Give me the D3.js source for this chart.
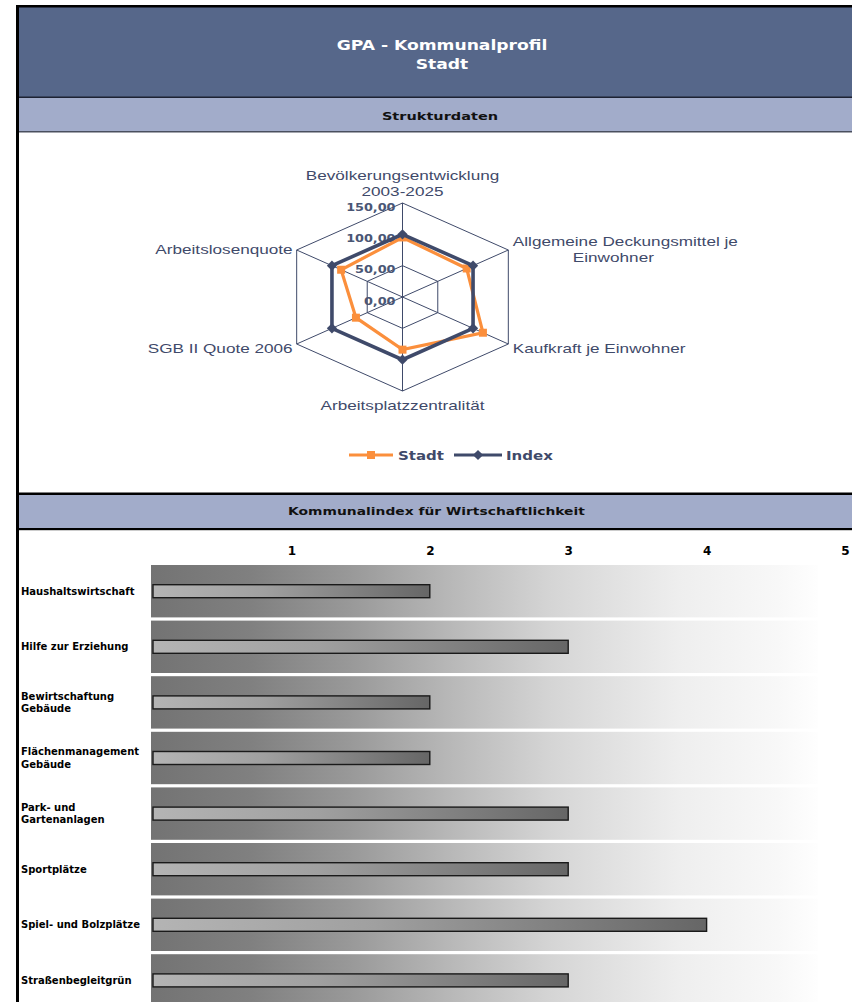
<!DOCTYPE html>
<html>
<head>
<meta charset="utf-8">
<script src="https://cdn.jsdelivr.net/npm/d3@7/dist/d3.min.js"></script>
<style>
  html, body { margin: 0; padding: 0; background: #fff; }
  svg { display: block; }
</style>
</head>
<body>
<svg id="chart" width="852" height="1002"></svg>
<script>
// ---------------- DATA ----------------
const titleLines = ["GPA - Kommunalprofil", "Stadt"];
const section1Title = "Strukturdaten";
const section2Title = "Kommunalindex für Wirtschaftlichkeit";

const radarAxes = [
  "Bevölkerungsentwicklung\n2003-2025",
  "Allgemeine Deckungsmittel je\nEinwohner",
  "Kaufkraft je Einwohner",
  "Arbeitsplatzzentralität",
  "SGB II Quote 2006",
  "Arbeitslosenquote"
];
const seriesNames = ["Stadt", "Index"];
const stadtValues = [95, 91, 114, 84, 66, 87];
const indexValues = [100, 100, 100, 100, 100, 100];
const radarTicks = [0, 50, 100, 150];

const barCategories = [
  "Haushaltswirtschaft",
  "Hilfe zur Erziehung",
  "Bewirtschaftung\nGebäude",
  "Flächenmanagement\nGebäude",
  "Park- und\nGartenanlagen",
  "Sportplätze",
  "Spiel- und Bolzplätze",
  "Straßenbegleitgrün"
];
const barValues = [2, 3, 2, 2, 3, 3, 4, 3];
const barTicks = [1, 2, 3, 4, 5];

// ---------------- STYLE ----------------
const C = {
  header: "#56678a",
  band: "#a2acca",
  slate: "#3f4a6a",
  orange: "#fb8f3c",
  text: "#111111"
};
const SANS_B = "'DejaVu Sans', Verdana, sans-serif";
const ARIAL = "'Liberation Sans', Arial, sans-serif";

const svg = d3.select("#chart");

function txt(parent, x, y, s, o) {
  return parent.append("text")
    .attr("transform", `translate(${x},${y}) scale(${o.sx || 1},1)`)
    .attr("text-anchor", o.anchor || "middle")
    .attr("font-family", o.family || SANS_B)
    .attr("font-size", o.size)
    .attr("font-weight", o.weight || "normal")
    .attr("fill", o.fill || C.text)
    .text(s);
}

// ---------------- GRADIENTS ----------------
const defs = svg.append("defs");
const bandGrad = defs.append("linearGradient").attr("id", "bandGrad")
  .attr("x1", "0").attr("x2", "1").attr("y1", "0").attr("y2", "0");
[[0, "#737373"], [0.15, "#808080"], [0.30, "#999999"], [0.45, "#b8b8b8"],
 [0.60, "#d5d5d5"], [0.79, "#eeeeee"], [0.94, "#f8f8f8"], [1, "#fefefe"]]
  .forEach(([o, c]) => bandGrad.append("stop").attr("offset", o).attr("stop-color", c));
const barGrad = defs.append("linearGradient").attr("id", "barGrad")
  .attr("x1", "0").attr("x2", "1").attr("y1", "0").attr("y2", "0");
[[0, "#b4b4b4"], [0.4, "#a0a0a0"], [1, "#666666"]]
  .forEach(([o, c]) => barGrad.append("stop").attr("offset", o).attr("stop-color", c));

// ---------------- FRAME / HEADERS ----------------
svg.append("rect").attr("x", 19).attr("y", 7).attr("width", 833).attr("height", 90).attr("fill", C.header);
svg.append("rect").attr("x", 19).attr("y", 96.5).attr("width", 833).attr("height", 1.5).attr("fill", "#1d2233");
svg.append("rect").attr("x", 19).attr("y", 98).attr("width", 833).attr("height", 33).attr("fill", C.band);
svg.append("rect").attr("x", 19).attr("y", 131).attr("width", 833).attr("height", 1.5).attr("fill", "#4a4f5e");

svg.append("rect").attr("x", 19).attr("y", 492.5).attr("width", 833).attr("height", 2.5).attr("fill", "#000");
svg.append("rect").attr("x", 19).attr("y", 495).attr("width", 833).attr("height", 33).attr("fill", C.band);
svg.append("rect").attr("x", 19).attr("y", 528).attr("width", 833).attr("height", 2.2).attr("fill", "#000");

svg.append("rect").attr("x", 16).attr("y", 5).attr("width", 3).attr("height", 997).attr("fill", "#000");
svg.append("rect").attr("x", 16).attr("y", 5).attr("width", 836).attr("height", 2.5).attr("fill", "#000");

txt(svg, 442, 50, titleLines[0], { size: 13.5, weight: "bold", fill: "#fff", sx: 1.27 });
txt(svg, 442, 69, titleLines[1], { size: 13.5, weight: "bold", fill: "#fff", sx: 1.27 });
txt(svg, 440, 120, section1Title, { size: 11, weight: "bold", sx: 1.32 });
txt(svg, 436.5, 514.5, section2Title, { size: 11, weight: "bold", sx: 1.26 });

// ---------------- RADAR ----------------
const cx = 402.5, cy = 297, SX = 1.3;
const r = d3.scaleLinear().domain([0, 150]).range([0, 94]);
const ang = d3.scaleLinear().domain([0, radarAxes.length]).range([0, 2 * Math.PI]);
const pt = (i, v) => [cx + SX * r(v) * Math.sin(ang(i)), cy - r(v) * Math.cos(ang(i))];
const radar = svg.append("g");
const closed = d3.line().curve(d3.curveLinearClosed);

// grid rings
radarTicks.filter(t => t > 0).forEach(t => {
  radar.append("path")
    .attr("d", closed(radarAxes.map((_, i) => pt(i, t))))
    .attr("fill", "none").attr("stroke", C.slate).attr("stroke-width", 1);
});
// spokes
radarAxes.forEach((_, i) => {
  const [x, y] = pt(i, radarTicks[radarTicks.length - 1]);
  radar.append("line").attr("x1", cx).attr("y1", cy).attr("x2", x).attr("y2", y)
    .attr("stroke", C.slate).attr("stroke-width", 1);
});

// axis labels
radarAxes.forEach((label, i) => {
  const [vx, vy] = pt(i, 150);
  const lines = label.split("\n");
  const s = Math.sin(ang(i)), c = Math.cos(ang(i));
  const o = { size: 13, family: ARIAL, fill: C.slate, sx: 1.32 };
  if (Math.abs(s) < 1e-6) {
    if (c > 0) {
      const base = vy - 7.5 - (lines.length - 1) * 16;
      lines.forEach((ln, k) => txt(radar, vx, base + k * 16, ln, o));
    } else {
      lines.forEach((ln, k) => txt(radar, vx, vy + 18.5 + k * 16, ln, o));
    }
  } else {
    const anchor = s > 0 ? "start" : "end";
    const x0 = s > 0 ? vx + 4.5 : vx - 4;
    const center = vy + (c > 0 ? -1 : 4);
    const first = center - (lines.length - 1) * 8 + 4.5;
    let w1 = 0;
    lines.forEach((ln, k) => {
      if (k === 0) {
        const t = txt(radar, x0, first, ln, Object.assign({}, o, { anchor }));
        w1 = t.node().getComputedTextLength() * o.sx;
      } else {
        const mid = s > 0 ? x0 + w1 / 2 - 12 : x0 - w1 / 2;
        txt(radar, mid, first + k * 16, ln, o);
      }
    });
  }
});

// tick labels
const de = d3.formatLocale({ decimal: ",", thousands: ".", grouping: [3], currency: ["", " €"] });
const fmt = de.format(".2f");
radarTicks.forEach(t => {
  txt(radar, cx - 7, cy - r(t) + 7.5, fmt(t), { size: 10, weight: "bold", fill: "#4a5675", anchor: "end", sx: 1.28 });
});

// series
const seriesData = [stadtValues, indexValues];
const seriesColor = [C.orange, C.slate];
const symbols = [
  d3.symbol(d3.symbolSquare, 64),
  d3.symbol(d3.symbolSquare, 52)
];
seriesData.forEach((vals, si) => {
  const pts = vals.map((v, i) => pt(i, v));
  radar.append("path").attr("d", closed(pts))
    .attr("fill", "none").attr("stroke", seriesColor[si])
    .attr("stroke-width", si === 0 ? 3.2 : 3.6).attr("stroke-linejoin", "miter");
  radar.selectAll(null).data(pts).enter().append("path")
    .attr("d", symbols[si])
    .attr("transform", d => `translate(${d[0]},${d[1]})` + (si === 1 ? " rotate(45)" : ""))
    .attr("fill", seriesColor[si]);
});

// legend
const legend = svg.append("g");
const legendItems = [
  { name: seriesNames[0], x1: 349, x2: 393, tx: 398, color: C.orange, sym: 0 },
  { name: seriesNames[1], x1: 454, x2: 502, tx: 506, color: C.slate, sym: 1 }
];
legendItems.forEach(it => {
  legend.append("line").attr("x1", it.x1).attr("x2", it.x2).attr("y1", 455).attr("y2", 455)
    .attr("stroke", it.color).attr("stroke-width", 3);
  legend.append("path").attr("d", symbols[it.sym])
    .attr("transform", `translate(${(it.x1 + it.x2) / 2},455)` + (it.sym === 1 ? " rotate(45)" : ""))
    .attr("fill", it.color);
  txt(legend, it.tx, 459.5, it.name, { size: 12.5, weight: "bold", fill: C.slate, anchor: "start", sx: 1.2 });
});

// ---------------- BAR CHART ----------------
const x = d3.scaleLinear().domain([0, 5]).range([153, 845]);
const y = d3.scaleBand().domain(barCategories).range([565, 1006.6]).paddingInner(0.0576).paddingOuter(0);
const bars = svg.append("g");

bars.selectAll("rect.bg").data(barCategories).enter().append("rect")
  .attr("class", "bg")
  .attr("x", 151).attr("width", 667)
  .attr("y", d => y(d)).attr("height", y.bandwidth())
  .attr("fill", "url(#bandGrad)");

const barH = 13;
bars.selectAll("rect.bar").data(barValues).enter().append("rect")
  .attr("class", "bar")
  .attr("x", x(0))
  .attr("y", (d, i) => y(barCategories[i]) + y.bandwidth() / 2 - barH / 2)
  .attr("width", d => x(d) - x(0))
  .attr("height", barH)
  .attr("fill", "url(#barGrad)")
  .attr("stroke", "#1a1a1a").attr("stroke-width", 1.4);

// category labels
barCategories.forEach(cat => {
  const lines = cat.split("\n");
  const mid = y(cat) + y.bandwidth() / 2;
  const lh = 12.5;
  lines.forEach((ln, k) => {
    txt(bars, 21, mid + 3.6 + (k - (lines.length - 1) / 2) * lh, ln,
      { size: 10, weight: "bold", anchor: "start", fill: "#000" });
  });
});

// top axis
const axisG = svg.append("g").attr("transform", "translate(0,554.5)")
  .call(d3.axisTop(x).tickValues(barTicks).tickSize(0).tickPadding(0).tickFormat(d3.format("d")));
axisG.select(".domain").remove();
axisG.selectAll("text")
  .attr("font-family", SANS_B).attr("font-size", 12).attr("font-weight", "bold")
  .attr("fill", "#000").attr("dy", "0");
</script>
</body>
</html>
